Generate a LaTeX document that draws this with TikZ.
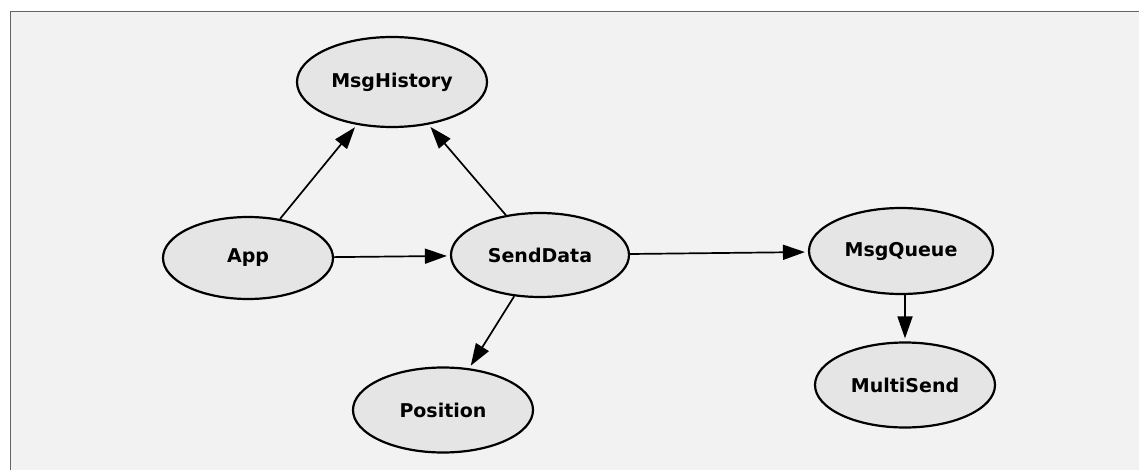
\documentclass[tikz,border=0pt]{standalone}
\usepackage{fontspec}
\setmainfont{DejaVu Sans}
\usetikzlibrary{shapes.geometric,arrows.meta}

\definecolor{paneback}{RGB}{242,242,242}
\definecolor{nodefill}{RGB}{229,229,229}
\definecolor{paneline}{RGB}{100,100,100}

\tikzset{
	module/.style = {ellipse, draw = black, line width = 1.1pt, fill = nodefill, inner sep = 0pt,
		font = \fontsize{9.5}{11}\selectfont\bfseries},
	call/.style = {line width = 0.85pt, -{Triangle[length = 11pt, width = 7.5pt]}, shorten > = 1.5pt}
}

\begin{document}
\begin{tikzpicture}[x = 0.5pt, y = -0.5pt]
	\useasboundingbox (0, 0) rectangle (1139, 470);
	\fill[white] (0, 0) rectangle (1139, 470);
	\fill[paneback] (10, 12) rectangle (1139, 470);
	\draw[paneline, line width = 0.5pt] (10, 470) -- (10, 12) -- (1139, 12);
	
	\node[module, minimum width = 95pt, minimum height = 45pt] (history) at (392, 82) {MsgHistory};
	\node[module, minimum width = 85pt, minimum height = 41pt] (app) at (248, 258) {App};
	\node[module, minimum width = 89pt, minimum height = 42pt] (send) at (540, 255) {SendData};
	\node[module, minimum width = 92pt, minimum height = 43pt] (queue) at (901, 251) {MsgQueue};
	\node[module, minimum width = 90pt, minimum height = 42.5pt] (multi) at (905, 385) {MultiSend};
	\node[module, minimum width = 90pt, minimum height = 42.5pt] (position) at (443, 410) {Position};
	
	\draw[call] (app) -- (history);
	\draw[call] (send) -- (history);
	\draw[call] (app) -- (send);
	\draw[call] (send) -- (queue);
	\draw[call] (send) -- (position);
	\draw[call] (queue.south -| multi.north) -- (multi);
\end{tikzpicture}
\end{document}
